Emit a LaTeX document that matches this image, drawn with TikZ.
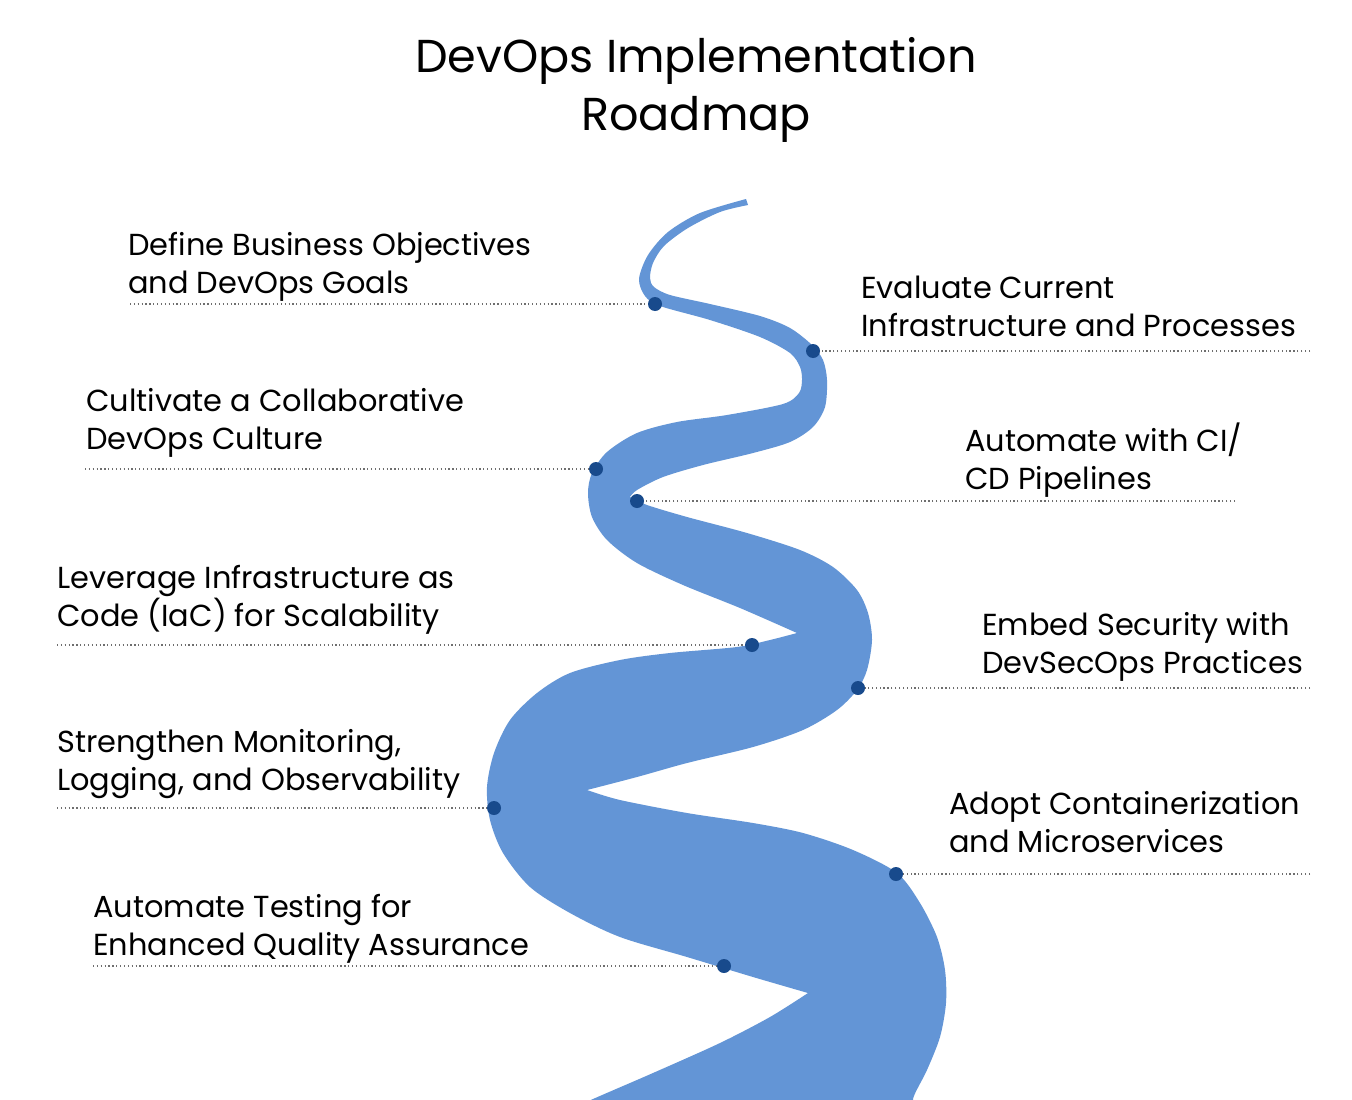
\documentclass[tikz,border=0pt]{standalone}
\usepackage{fontspec}
\setmainfont{Poppins}
\usepackage{tikz}
\usetikzlibrary{positioning}
\definecolor{roadblue}{RGB}{99,149,214}
\definecolor{pinblue}{RGB}{24,74,140}
\definecolor{leadgray}{RGB}{110,110,110}
\tikzset{
  milestone/.style = {circle, fill=pinblue, inner sep=0pt, minimum size=10.5pt},
  steptext/.style  = {anchor=base west, align=left, inner sep=0pt,
                      font=\fontsize{22.8}{28.5}\selectfont},
  leader/.style    = {leadgray, line width=0.9pt, dash pattern=on 0.9pt off 2pt},
  titletext/.style = {align=center, inner sep=0pt, anchor=base,
                      font=\fontsize{34.6}{43.5}\selectfont},
}

\begin{document}
\begin{tikzpicture}[x=0.75pt, y=-0.75pt]

  %─── Canvas ────────────────────────────────────────────────────────────────
  \fill[white] (0,0) rectangle (1352,1099);
  \useasboundingbox (0,0) rectangle (1352,1099);

  %─── Title ─────────────────────────────────────────────────────────────────
  \node[titletext] at (696,130) (title) {DevOps Implementation\\Roadmap};

  %─── Road ribbon ───────────────────────────────────────────────────────────
  \begin{scope}
    \clip (0,0) rectangle (1352,1099);
    \fill[roadblue]
      plot[smooth] coordinates {(746,199) (700,213) (668,232) (648,255) (639,279)
        (645,296) (660,306) (710,320) (760,337) (790,353) (800,367) (802,380)
        (799,393) (783,404) (727,415) (677,422) (637,433) (607,452) (592,473)
        (588,493) (592,517) (607,540) (637,563) (683,585) (740,608) (797,633)}
      -- plot[smooth] coordinates {(797,633) (770,640) (737,647) (670,653)
        (620,660) (570,673) (537,693) (510,720) (494,753) (487,787) (490,820)
        (503,853) (530,887) (570,913) (620,937) (687,957) (753,977) (808,993)}
      -- plot[smooth] coordinates {(808,993) (770,1017) (720,1043) (653,1073)
        (593,1099) (570,1110)}
      -- (920,1110)
      -- plot[smooth] coordinates {(920,1110) (913,1099) (927,1070) (940,1037)
        (946,1003) (945,970) (937,937) (920,903) (897,873) (853,850) (803,833)
        (753,823) (687,813) (620,800) (587,790)}
      -- plot[smooth] coordinates {(587,790) (637,777) (687,763) (753,747)
        (803,730) (837,710) (857,690) (867,670) (872,640) (868,613) (857,590)
        (833,567) (800,550) (747,533) (687,517) (647,505) (630,497)}
      -- plot[smooth] coordinates {(630,497) (637,490) (663,477) (703,465)
        (753,453) (790,442) (813,427) (825,407) (827,380) (823,360) (812,345)
        (790,328) (760,316) (710,304) (670,295) (654,287) (650,278) (653,263)
        (664,246) (688,228) (720,212) (748,205)}
      -- cycle;
  \end{scope}

  %─── Milestones ────────────────────────────────────────────────────────────
  \node[milestone] at (655,304) (m1) {};
  \node[milestone] at (813,351) (m2) {};
  \node[milestone] at (596,469) (m3) {};
  \node[milestone] at (637,501) (m4) {};
  \node[milestone] at (752,645) (m5) {};
  \node[milestone] at (858,688) (m6) {};
  \node[milestone] at (494,808) (m7) {};
  \node[milestone] at (896,874) (m8) {};
  \node[milestone] at (724,966) (m9) {};

  %─── Leader ends ───────────────────────────────────────────────────────────
  \coordinate (e1) at (130,304);
  \coordinate (e2) at (1310,351);
  \coordinate (e3) at (85,469);
  \coordinate (e4) at (1235,501);
  \coordinate (e5) at (57,645);
  \coordinate (e6) at (1310,688);
  \coordinate (e7) at (57,808);
  \coordinate (e8) at (1310,874);
  \coordinate (e9) at (93,966);

  %─── Leaders ───────────────────────────────────────────────────────────────
  \foreach \i in {1,...,9}
    \draw[leader] (e\i) -- (m\i);

  %─── Step labels (placed by the baseline of their last line) ────────────────
  \node[steptext] at (128,293) (s1) {Define Business Objectives\\and DevOps Goals};
  \node[steptext] at (861,336) (s2) {Evaluate Current\\Infrastructure and Processes};
  \node[steptext] at (86,449)  (s3) {Cultivate a Collaborative\\DevOps Culture};
  \node[steptext] at (965,489) (s4) {Automate with CI/\\CD Pipelines};
  \node[steptext] at (57,626)  (s5) {Leverage Infrastructure as\\Code (IaC) for Scalability};
  \node[steptext] at (982,673) (s6) {Embed Security with\\DevSecOps Practices};
  \node[steptext] at (57,790)  (s7) {Strengthen Monitoring,\\Logging, and Observability};
  \node[steptext] at (949,852) (s8) {Adopt Containerization\\and Microservices};
  \node[steptext] at (93,955)  (s9) {Automate Testing for\\Enhanced Quality Assurance};

\end{tikzpicture}
\end{document}
